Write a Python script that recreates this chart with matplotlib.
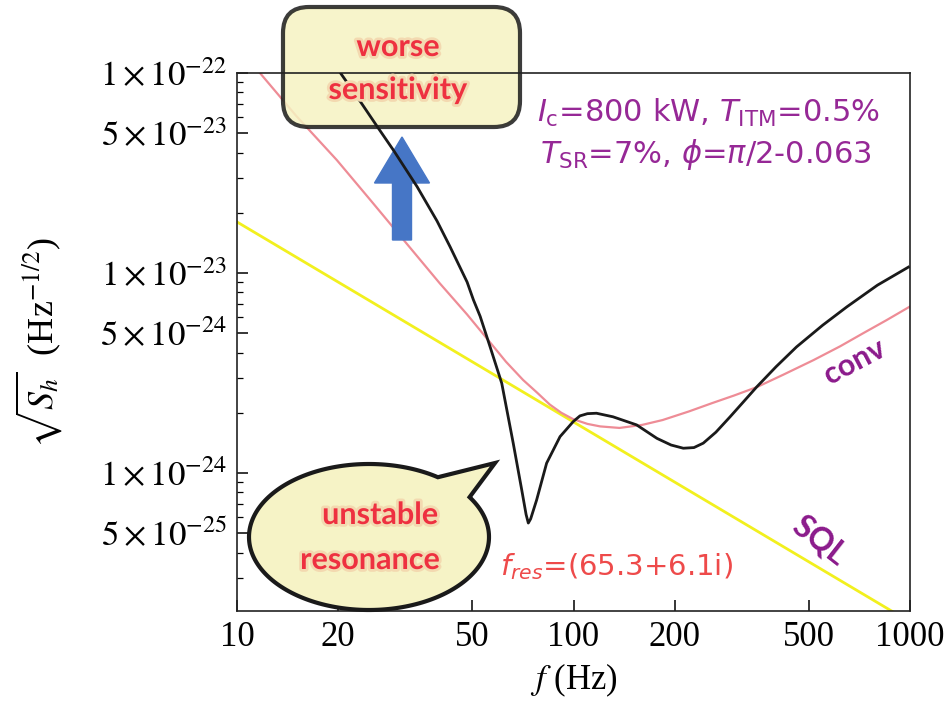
import numpy as np
import matplotlib
matplotlib.use("Agg")
import matplotlib.pyplot as plt
import matplotlib.transforms as mtransforms
import matplotlib.patheffects as pe
from matplotlib.patches import FancyBboxPatch, Polygon, FancyArrow

# ---- data ----
freq_sql = [10, 1000]
sqrt_sh_sql = [1.80e-23, 1.80e-25]

freq_conv = [10, 11.7, 15, 19.8, 25, 31.3, 40.0, 48.3, 56.5, 63, 70.8, 78, 85.0, 92,
             99.7, 110, 120, 137, 160, 184, 220, 259, 300, 351, 420, 517, 620, 726,
             850, 1000]
sqrt_sh_conv = [1.37e-22, 1.0e-22, 6.1e-23, 3.67e-23, 2.30e-23, 1.46e-23, 8.9e-24,
                6.2e-24, 4.5e-24, 3.6e-24, 2.92e-24, 2.52e-24, 2.20e-24, 2.00e-24,
                1.86e-24, 1.76e-24, 1.71e-24, 1.68e-24, 1.74e-24, 1.84e-24, 2.03e-24,
                2.24e-24, 2.44e-24, 2.69e-24, 3.10e-24, 3.67e-24, 4.30e-24, 5.0e-24,
                5.8e-24, 6.8e-24]

freq_black = [18, 20.3, 23, 26.1, 29.2, 34.3, 39.3, 43.0, 48.3, 50.4, 52.8, 56.5, 61.2,
              66.2, 70.2, 72.3, 73.4, 74.6, 77.7, 83.2, 91.2, 99.9, 104.5, 110, 117,
              131, 154, 177, 195, 212, 228, 243, 265, 292, 320, 350, 400, 460, 550,
              649, 800, 989]
sqrt_sh_black = [1.33e-22, 1.0e-22, 7.4e-23, 5.4e-23, 4.1e-23, 2.70e-23, 1.82e-23,
                 1.35e-23, 9.0e-24, 7.35e-24, 6.07e-24, 4.28e-24, 2.81e-24, 1.41e-24,
                 8.2e-25, 6.2e-25, 5.62e-25, 5.9e-25, 7.33e-25, 1.12e-24, 1.52e-24,
                 1.81e-24, 1.93e-24, 1.98e-24, 1.99e-24, 1.91e-24, 1.74e-24, 1.49e-24,
                 1.38e-24, 1.33e-24, 1.34e-24, 1.41e-24, 1.60e-24, 1.91e-24, 2.27e-24,
                 2.69e-24, 3.40e-24, 4.27e-24, 5.48e-24, 6.77e-24, 8.69e-24, 1.07e-23]

xticks = [10, 20, 50, 100, 200, 500, 1000]
xticklabels = ["10", "20", "50", "100", "200", "500", "1000"]
yticks = [5e-25, 1e-24, 5e-24, 1e-23, 5e-23, 1e-22]
yticklabels = [r"$5\times10^{-25}$", r"$1\times10^{-24}$", r"$5\times10^{-24}$",
               r"$1\times10^{-23}$", r"$5\times10^{-23}$", r"$1\times10^{-22}$"]

plt.rcParams['font.family'] = ['Liberation Serif', 'DejaVu Serif']
plt.rcParams['mathtext.fontset'] = 'stix'

W, H = 949, 705
fig = plt.figure(figsize=(W / 100, H / 100), dpi=100)
ax = fig.add_axes([237 / W, 1 - 611 / H, (910 - 237) / W, (611 - 73) / H])

# pixel coords (y downward) -> figure
px = mtransforms.Affine2D().scale(1 / W, -1 / H).translate(0, 1) + fig.transFigure

ax.plot(freq_sql, sqrt_sh_sql, color='#F2F01E', lw=2.0, zorder=2)
ax.plot(freq_conv, sqrt_sh_conv, color='#EE8C96', lw=1.6, zorder=2)
ax.plot(freq_black, sqrt_sh_black, color='#1a1a1a', lw=2.0, zorder=3,
        solid_joinstyle='round')

ax.set_xscale('log')
ax.set_yscale('log')
ax.set_xlim(10, 1000)
ax.set_ylim(10 ** (-24.69), 1e-22)

ax.xaxis.set_minor_locator(matplotlib.ticker.NullLocator())
ax.set_xticks(xticks)
ax.set_xticklabels(xticklabels)
ax.set_yticks(yticks)
ax.set_yticklabels(yticklabels)
ax.yaxis.set_minor_locator(matplotlib.ticker.LogLocator(base=10, subs=(2, 3, 4, 6, 7, 8, 9)))
ax.yaxis.set_minor_formatter(matplotlib.ticker.NullFormatter())
ax.tick_params(which='major', direction='in', length=8, width=1.1, labelsize=25, pad=7)
ax.tick_params(which='minor', direction='in', length=4, width=0.9)
for s in ax.spines.values():
    s.set_linewidth(1.2)
    s.set_color('#222222')

ax.set_xlabel(r"$f$ (Hz)", fontsize=25, labelpad=6)
ax.set_ylabel(r"$\sqrt{S_h}$  (Hz$^{-1/2}$)", fontsize=26)
ax.yaxis.set_label_coords((64 - 237) / (910 - 237), 0.5)

# annotations
purple = '#962896'
fig.text(537, 113, r"$I_{\rm c}$=800 kW, $T_{\rm ITM}$=0.5%", transform=px,
         color=purple, fontsize=22, family='DejaVu Sans', math_fontfamily='dejavusans',
         ha='left', va='center')
fig.text(540, 154, r"$T_{\rm SR}$=7%, $\phi$=$\pi$/2-0.063", transform=px,
         color=purple, fontsize=22, family='DejaVu Sans', math_fontfamily='dejavusans',
         ha='left', va='center')
fig.text(855, 362, "conv", transform=px, color='#8B1A8B', fontsize=22, family='Lato',
         weight='bold', rotation=28, ha='center', va='center')
fig.text(820, 540, "SQL", transform=px, color='#8B1A8B', fontsize=23, family='Lato',
         weight='bold', rotation=-38, ha='center', va='center')
fig.text(500, 567, r"$f_{res}$=(65.3+6.1i)", transform=px,
         color='#EE4A4A', fontsize=21, family='DejaVu Sans', math_fontfamily='dejavusans',
         ha='left', va='center')

# worse sensitivity box + arrow
box = FancyBboxPatch((283, 7), 237, 120, boxstyle="round,pad=0,rounding_size=26",
                     transform=px, facecolor='#F6F3C2', edgecolor='#1a1a1a', lw=3,
                     alpha=0.85, clip_on=False, zorder=2.2)
ax.add_patch(box)
arrow = FancyArrow(402, 240, 0, -103, width=19, head_width=55, head_length=46,
                   length_includes_head=True, transform=px, color='#4676C6',
                   clip_on=False, zorder=2.4)
ax.add_patch(arrow)
glow = [pe.withStroke(linewidth=4, foreground='#F3D9B0')]
fig.text(398, 47, "worse", transform=px, color='#EE3040', fontsize=22, family='Lato',
         weight='bold', ha='center', va='center', path_effects=glow, zorder=5)
fig.text(398, 90, "sensitivity", transform=px, color='#EE3040', fontsize=22, family='Lato',
         weight='bold', ha='center', va='center', path_effects=glow, zorder=5)

# unstable resonance bubble
cx, cy, a, b = 369, 537, 120, 73
thA = np.arctan2((478 - cy) / b, (437 - cx) / a) + 2 * np.pi
thB = np.arctan2((497 - cy) / b, (470 - cx) / a)
th = np.linspace(thB, thA, 200)
pts = np.column_stack([cx + a * np.cos(th), cy + b * np.sin(th)])
pts = np.vstack([pts, [[495, 463]]])
bubble = Polygon(pts, closed=True, transform=px, facecolor='#F6F3C6', edgecolor='#1a1a1a',
                 lw=3, clip_on=False, zorder=4, joinstyle='miter')
ax.add_patch(bubble)
fig.text(380, 515, "unstable", transform=px, color='#EE3040', fontsize=22, family='Lato',
         weight='bold', ha='center', va='center', path_effects=glow, zorder=5)
fig.text(370, 560, "resonance", transform=px, color='#EE3040', fontsize=22, family='Lato',
         weight='bold', ha='center', va='center', path_effects=glow, zorder=5)

fig.savefig("out.png", dpi=100)
